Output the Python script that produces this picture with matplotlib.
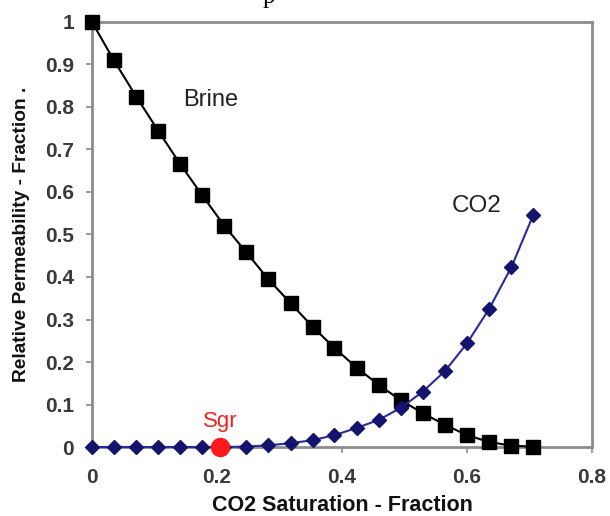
import numpy as np
import matplotlib.pyplot as plt

#### data ####
sat = [0, 0.035, 0.071, 0.106, 0.141, 0.176, 0.212, 0.247, 0.282, 0.318, 0.353,
       0.388, 0.424, 0.459, 0.494, 0.529, 0.565, 0.600, 0.635, 0.671, 0.706]
krBrine = [1.0, 0.91, 0.824, 0.744, 0.666, 0.593, 0.52, 0.458, 0.395, 0.338, 0.283,
           0.233, 0.186, 0.146, 0.11, 0.08, 0.052, 0.028, 0.012, 0.003, 0.001]
krCO2 = [0, 0, 0, 0, 0, 0, 0, 0.001, 0.004, 0.009, 0.016,
         0.028, 0.045, 0.064, 0.092, 0.13, 0.179, 0.244, 0.324, 0.423, 0.546]
sgr = 0.205
xticks = [0, 0.2, 0.4, 0.6, 0.8]
yticks = [0, 0.1, 0.2, 0.3, 0.4, 0.5, 0.6, 0.7, 0.8, 0.9, 1]
xtickLabels = ['0', '0.2', '0.4', '0.6', '0.8']
ytickLabels = ['0', '0.1', '0.2', '0.3', '0.4', '0.5', '0.6', '0.7', '0.8', '0.9', '1']
########################################

plt.rcParams['font.family'] = ['Liberation Sans', 'DejaVu Sans']

fig = plt.figure(figsize=(6.1, 5.16), dpi=100)
ax = fig.add_axes([0.1508, 0.1337, 0.8197, 0.8237])

ax.plot(sat, krBrine, color='black', lw=1.5, marker='s', ms=9.5,
        mfc='black', mec='black', zorder=3, clip_on=False)
ax.plot(sat, krCO2, color='#2a2aa0', lw=1.5, marker='D', ms=7,
        mfc='#14146e', mec='#14146e', zorder=4, clip_on=False)
ax.plot([sgr], [0], 'o', color='#ff1a1a', ms=13, zorder=5, clip_on=False)

ax.text(sgr, 0.035, 'Sgr', color='#ee2222', fontsize=16, ha='center', va='bottom')
ax.text(0.19, 0.816, 'Brine', color='#222222', fontsize=17, ha='center', va='center')
ax.text(0.615, 0.568, 'CO2', color='#222222', fontsize=17.5, ha='center', va='center')

ax.set_xlim(0, 0.8)
ax.set_ylim(0, 1)
ax.set_xticks(xticks)
ax.set_yticks(yticks)
ax.set_xticklabels(xtickLabels)
ax.set_yticklabels(ytickLabels)

for s in ax.spines.values():
    s.set_color('#8c8c8c')
    s.set_linewidth(2)
ax.tick_params(direction='out', length=4, width=1.2, color='#8c8c8c',
               labelsize=15, labelcolor='#3a3a3a')
ax.tick_params(axis='x', pad=11)
ax.tick_params(axis='y', pad=9)
for lab in ax.get_xticklabels() + ax.get_yticklabels():
    lab.set_fontweight('bold')

ax.set_xlabel('CO2 Saturation - Fraction', fontsize=15.5, fontweight='bold',
              color='#111111', labelpad=6)
ax.set_ylabel('Relative Permeability - Fraction .', fontsize=13.8, fontweight='bold',
              color='#111111', labelpad=11)

# stray letter from the page above
fig.text(0.44, 1.005, 'p', family='Liberation Serif', fontsize=18, ha='center', va='center')

plt.savefig('out.png', dpi=100)
